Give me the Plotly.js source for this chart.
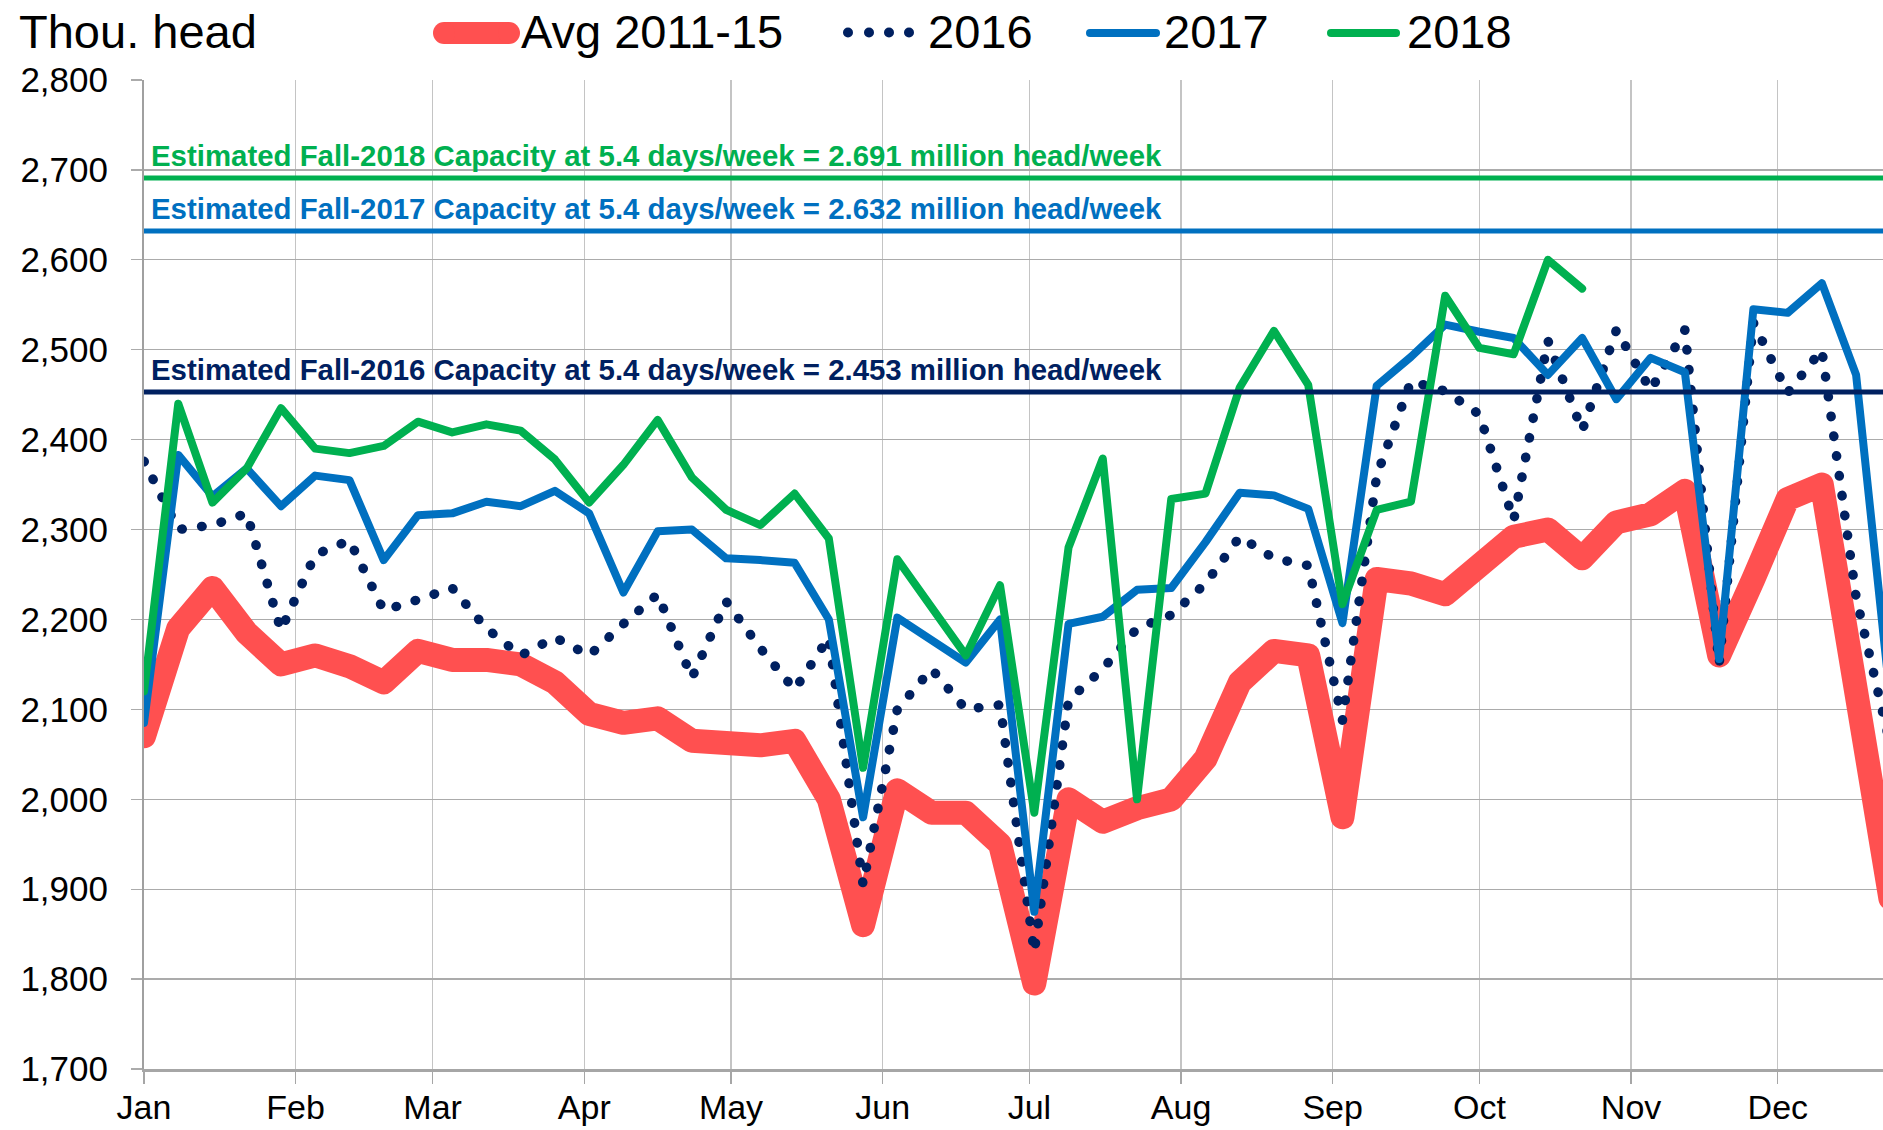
<!DOCTYPE html>
<html>
<head>
<meta charset="utf-8">
<script src="https://cdn.plot.ly/plotly-3.0.1.min.js"></script>
<style>
html,body{margin:0;padding:0;background:#ffffff;}
#chart{width:1883px;height:1130px;}
</style>
</head>
<body>
<div id="chart"></div>
<script>
// ---------------- DATA ----------------
const seriesNames = ['Avg 2011-15', '2016', '2017', '2018'];

// weekly slaughter, thousand head (week 1 .. week 52)
const avg2011_15 = [2070, 2190, 2235, 2185, 2150, 2160, 2148, 2130, 2165, 2155,
                    2155, 2150, 2130, 2095, 2085, 2090, 2065, 2060, 2060, 2065,
                    2000, 1860, 2010, 1985, 1985, 1950, 1795, 2000, 1975, 1990,
                    2000, 2045, 2130, 2165, 2160, 1980, 2245, 2240, 2228, 2260,
                    2292, 2300, 2268, 2308, 2317, 2343, 2160, 2245, 2334, 2350,
                    2120, 1890];
const y2016 = [2376, 2300, 2305, 2318, 2188, 2272, 2288, 2210, 2222, 2235,
               2190, 2160, 2180, 2160, 2195, 2228, 2135, 2220, 2168, 2122,
               2180, 1905, 2100, 2145, 2100, 2105, 1830, 2110, 2145, 2190,
               2205, 2240, 2292, 2268, 2260, 2088, 2360, 2465, 2454, 2428,
               2310, 2510, 2410, 2522, 2455, 2522, 2150, 2530, 2452, 2500,
               2225, 2060];
const y2017 = [2085, 2383, 2337, 2368, 2326, 2360, 2355, 2266, 2316, 2318,
               2331, 2326, 2343, 2318, 2230, 2298, 2300, 2268, 2266, 2263,
               2200, 1980, 2202, 2177, 2152, 2200, 1875, 2195, 2203, 2233,
               2235, 2286, 2341, 2338, 2323, 2196, 2460, 2492, 2528, 2520,
               2513, 2472, 2513, 2445, 2491, 2475, 2156, 2545, 2541, 2574,
               2472, 2110];
const y2018 = [2120, 2440, 2330, 2368, 2435, 2390, 2385, 2393, 2420, 2408,
               2417, 2410, 2378, 2330, 2372, 2422, 2358, 2322, 2305, 2340,
               2290, 2035, 2267, 2213, 2160, 2238, 1985, 2280, 2379, 2000,
               2334, 2340, 2458, 2521, 2461, 2217, 2322, 2331, 2560, 2502,
               2495, 2600, 2568];

const monthLabels = ['Jan','Feb','Mar','Apr','May','Jun','Jul','Aug','Sep','Oct','Nov','Dec'];
const capacityYears = ['2016', '2017', '2018'];
const capacityValues = [2453, 2632, 2691];   // thousand head / week
const capacityDays = '5.4';
const yTitle = 'Thou. head';

// ---------------- STYLE ----------------
const W = 1883, H = 1130, ML = 144, MR = 0, MT = 80, MB = 61;
const PW = W - ML - MR, PH = H - MT - MB;
const colors = {avg: '#ff5050', y2016: '#002060', y2017: '#0070c0', y2018: '#00b050'};
const capColors = ['#002060', '#0070c0', '#00b050'];
const FONT = 'Liberation Sans, Arial, Helvetica, sans-serif';

function px2x(px) { return (px - ML) / PW; }
function py2y(py) { return (H - MB - py) / PH; }

function weekDates(n) {
  const out = [];
  for (let i = 0; i < n; i++) {
    const d = new Date(Date.UTC(2017, 0, 1 + 7 * i));
    out.push(d.toISOString().slice(0, 10));
  }
  return out;
}
const monthStarts = monthLabels.map((m, i) =>
  new Date(Date.UTC(2017, i, 1)).toISOString().slice(0, 10));

// ---------------- TRACES ----------------
const traces = [
  {x: weekDates(avg2011_15.length), y: avg2011_15, name: seriesNames[0], mode: 'lines',
   line: {color: colors.avg, width: 24}},
  {x: weekDates(y2016.length), y: y2016, name: seriesNames[1], mode: 'lines',
   line: {color: colors.y2016, width: 9.5, dash: '0.5px,19.5px'}},
  {x: weekDates(y2017.length), y: y2017, name: seriesNames[2], mode: 'lines',
   line: {color: colors.y2017, width: 8}},
  {x: weekDates(y2018.length), y: y2018, name: seriesNames[3], mode: 'lines',
   line: {color: colors.y2018, width: 8}}
];

// ---------------- SHAPES / ANNOTATIONS ----------------
const shapes = [];
const annotations = [];

// capacity lines + labels
capacityValues.forEach((v, k) => {
  shapes.push({type: 'line', xref: 'paper', yref: 'y', x0: 0, x1: 1, y0: v, y1: v,
               line: {color: capColors[k], width: 5}, layer: 'above'});
  annotations.push({
    xref: 'paper', yref: 'y', x: px2x(149), y: v, xanchor: 'left', yanchor: 'bottom',
    yshift: 4, showarrow: false,
    text: 'Estimated Fall-' + capacityYears[k] + ' Capacity at ' + capacityDays +
          ' days/week = ' + (v / 1000).toFixed(3) + ' million head/week',
    font: {family: FONT, size: 29.4, color: capColors[k], weight: 700}
  });
});

// title
annotations.push({xref: 'paper', yref: 'paper', x: px2x(17), y: py2y(31.5),
  xanchor: 'left', yanchor: 'middle', showarrow: false, text: yTitle,
  font: {family: FONT, size: 47, color: '#000000'}});

// custom legend
const legendY = 33;
function pixLine(x0, x1, y, color, width) {
  return {type: 'line', xref: 'paper', yref: 'paper', xsizemode: 'pixel', ysizemode: 'pixel',
          xanchor: 0, yanchor: 1, x0: x0 - ML, x1: x1 - ML, y0: MT - y, y1: MT - y,
          line: {color: color, width: width}};
}
function pixDot(cx, cy, d, color) {
  return {type: 'circle', xref: 'paper', yref: 'paper', xsizemode: 'pixel', ysizemode: 'pixel',
          xanchor: 0, yanchor: 1, x0: cx - ML - d / 2, x1: cx - ML + d / 2,
          y0: MT - cy - d / 2, y1: MT - cy + d / 2,
          fillcolor: color, line: {width: 0}};
}
function capsLine(x0, x1, y, color, width) {
  shapes.push(pixLine(x0 + width / 2, x1 - width / 2, y, color, width));
  shapes.push(pixDot(x0 + width / 2, y, width, color));
  shapes.push(pixDot(x1 - width / 2, y, width, color));
}
capsLine(433, 520, legendY, colors.avg, 22);
[848, 869, 889, 909].forEach(cx => shapes.push(pixDot(cx, 32.5, 10, colors.y2016)));
capsLine(1086, 1160, legendY, colors.y2017, 8);
capsLine(1327, 1400, legendY, colors.y2018, 8);

const legendTextX = [519, 926, 1162, 1405];
seriesNames.forEach((n, k) => {
  annotations.push({xref: 'paper', yref: 'paper', x: px2x(legendTextX[k]), y: py2y(31.5),
    xanchor: 'left', yanchor: 'middle', showarrow: false, text: n,
    font: {family: FONT, size: 47, color: '#000000'}});
});

// ---------------- LAYOUT ----------------
const layout = {
  width: W, height: H,
  margin: {l: ML, r: MR, t: MT, b: MB, pad: 0},
  paper_bgcolor: '#ffffff', plot_bgcolor: '#ffffff',
  showlegend: false,
  font: {family: FONT, color: '#000000'},
  xaxis: {
    type: 'date', range: ['2017-01-01', '2017-12-22 12:00'],
    tickvals: monthStarts, ticktext: monthLabels,
    showgrid: true, gridcolor: '#c4c4c4', gridwidth: 1.3,
    ticks: 'outside', ticklen: 12, tickwidth: 1.3, tickcolor: '#a6a6a6',
    showline: true, linecolor: '#a6a6a6', linewidth: 3,
    zeroline: false, ticklabelstandoff: -6,
    tickfont: {family: FONT, size: 34, color: '#000000'}
  },
  yaxis: {
    range: [1700, 2800], dtick: 100, tick0: 1700, tickformat: ',',
    showgrid: true, gridcolor: '#ababab', gridwidth: 1.3,
    ticks: 'outside', ticklen: 11, tickwidth: 1.3, tickcolor: '#ababab',
    showline: true, linecolor: '#a0a0a0', linewidth: 2,
    zeroline: false, ticklabelstandoff: 16,
    tickfont: {family: FONT, size: 35, color: '#000000'}
  },
  shapes: shapes,
  annotations: annotations
};

function roundLines() {
  document.querySelectorAll('#chart .scatterlayer .trace path.js-line').forEach(p => {
    p.style.strokeLinejoin = 'round';
    p.style.strokeLinecap = 'round';
  });
}

Plotly.newPlot('chart', traces, layout, {staticPlot: true, displayModeBar: false})
  .then(gd => { roundLines(); gd.on('plotly_afterplot', roundLines); });
</script>
</body>
</html>
